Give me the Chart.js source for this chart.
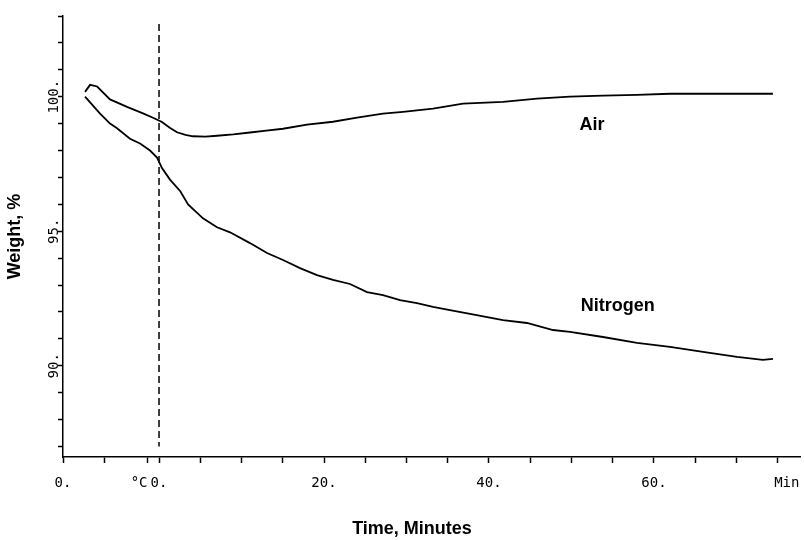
<!DOCTYPE html>
<html><head><meta charset="utf-8">
<script src="https://cdn.jsdelivr.net/npm/chart.js@4.4.1/dist/chart.umd.min.js"></script>
<style>html,body{margin:0;padding:0;background:#fff;}#wrap{width:804px;height:540px;position:relative;}</style>
</head><body><div id="wrap"><canvas id="c"></canvas></div>
<script>
// ---- data ----
const airTime = [-8.97, -8.36, -7.5, -5.94, -3.88, -1.94, -0.73, 0.36, 1.3, 2.18, 3.2, 4.12, 5.6, 7.03, 9.0, 11.03, 13.0, 15.03, 17.94, 21.09, 24.0, 27.15, 29.58, 33.21, 36.85, 41.7, 45.82, 49.82, 53.82, 57.94, 61.94, 65.94, 70.06, 74.42];
const airWeight = [100.18, 100.44, 100.38, 99.9, 99.62, 99.38, 99.22, 99.06, 98.85, 98.68, 98.58, 98.53, 98.52, 98.55, 98.6, 98.67, 98.74, 98.81, 98.96, 99.07, 99.22, 99.37, 99.44, 99.56, 99.74, 99.81, 99.93, 100.0, 100.04, 100.07, 100.11, 100.11, 100.11, 100.11];
const nitrogenTime = [-8.97, -7.15, -5.94, -5.09, -3.52, -2.3, -1.09, -0.24, 0.36, 1.33, 2.6, 3.52, 5.33, 7.03, 8.61, 11.03, 13.09, 15.03, 17.09, 19.15, 21.09, 23.15, 25.21, 27.15, 29.21, 31.27, 33.21, 35.27, 37.7, 41.7, 44.6, 47.76, 49.82, 53.82, 57.94, 61.94, 65.94, 70.06, 73.2, 74.42];
const nitrogenWeight = [100.0, 99.37, 99.0, 98.83, 98.44, 98.26, 98.0, 97.74, 97.35, 96.92, 96.48, 96.0, 95.48, 95.15, 94.96, 94.56, 94.19, 93.93, 93.63, 93.37, 93.19, 93.04, 92.74, 92.63, 92.44, 92.33, 92.19, 92.07, 91.93, 91.7, 91.59, 91.33, 91.26, 91.07, 90.85, 90.7, 90.52, 90.33, 90.22, 90.26];
const markerTime = [0, 0];
const markerWeight = [102.7, 87];

const seriesNames = ['Air', 'Nitrogen'];
const seriesLabelTime = [52.5, 55.6];
const seriesLabelWeight = [98.96, 92.22];

const yTickValues = [87, 88, 89, 90, 91, 92, 93, 94, 95, 96, 97, 98, 99, 100, 101, 102, 103];
const yLabelValues = [90, 95, 100];
const xLabelValues = [-11.64, -2.42, 0, 20, 40, 60, 76.1];
const xLabelTexts = ['0.', '°C', '0.', '20.', '40.', '60.', 'Min'];
const xUnmarked = [-2.42, 76.1];
const xMinorTicks = [-6.55, -1.45, 5, 10, 15, 25, 30, 35, 45, 50, 55, 65, 70, 75];

// ---- chart ----
const toPts = (xs, ys) => xs.map((v, i) => ({x: v, y: ys[i]}));
const monoFont = {family: '"DejaVu Sans Mono", monospace', size: 14};
const boldFont = {family: '"Liberation Sans", Arial, sans-serif', size: 18, weight: 'bold'};

const seriesLabelPlugin = {
  id: 'seriesLabels',
  afterDatasetsDraw(chart) {
    const {ctx, scales: {x, y}} = chart;
    ctx.save();
    ctx.font = 'bold 18px "Liberation Sans", Arial, sans-serif';
    ctx.fillStyle = '#000';
    ctx.textAlign = 'center';
    ctx.textBaseline = 'middle';
    seriesNames.forEach((n, i) => {
      ctx.fillText(n, x.getPixelForValue(seriesLabelTime[i]), y.getPixelForValue(seriesLabelWeight[i]));
    });
    ctx.restore();
  }
};

new Chart(document.getElementById('c'), {
  type: 'line',
  data: {
    datasets: [
      {label: 'Air', data: toPts(airTime, airWeight), borderColor: '#000', borderWidth: 1.8, pointRadius: 0, tension: 0, fill: false},
      {label: 'Nitrogen', data: toPts(nitrogenTime, nitrogenWeight), borderColor: '#000', borderWidth: 1.8, pointRadius: 0, tension: 0, fill: false},
      {label: 'marker', data: toPts(markerTime, markerWeight), borderColor: '#000', borderWidth: 1.5, borderDash: [7, 4], pointRadius: 0, fill: false}
    ]
  },
  options: {
    responsive: true,
    maintainAspectRatio: false,
    animation: false,
    layout: {padding: {left: 24, right: 4, top: 16, bottom: 0}},
    plugins: {
      legend: {display: false},
      tooltip: {enabled: false},
      title: {display: true, position: 'bottom', text: 'Time, Minutes', color: '#000', font: boldFont, padding: {top: 3, bottom: 0}}
    },
    scales: {
      x: {
        type: 'linear', min: -11.64, max: 77.7,
        afterBuildTicks: s => { s.ticks = [...xLabelValues, ...xMinorTicks].sort((a, b) => a - b).map(v => ({value: v})); },
        afterFit: s => { s.height = 58.4; s.paddingLeft = 0; s.paddingRight = 0; },
        ticks: {autoSkip: false, minRotation: 0, maxRotation: 0, padding: 12, color: '#000', font: monoFont,
          callback: v => { const i = xLabelValues.indexOf(v); return i >= 0 ? xLabelTexts[i] : ''; }},
        grid: {drawOnChartArea: false, drawTicks: true, tickLength: 6, tickWidth: 1.5,
          color: '#000', tickColor: c => (c.tick && xUnmarked.includes(c.tick.value)) ? 'rgba(0,0,0,0)' : '#000'},
        border: {display: true, color: '#000', width: 1.5}
      },
      y: {
        type: 'linear', min: 86.61, max: 103,
        afterBuildTicks: s => { s.ticks = yTickValues.map(v => ({value: v})); },
        afterFit: s => { s.width = 39; s.paddingTop = 0; s.paddingBottom = 0; },
        ticks: {autoSkip: false, minRotation: 90, maxRotation: 90, crossAlign: 'center', padding: -13, color: '#000', font: monoFont,
          callback: v => yLabelValues.includes(v) ? v + '.' : ''},
        grid: {drawOnChartArea: false, drawTicks: true, tickLength: 5, tickWidth: 1.5, color: '#000', tickColor: '#000'},
        border: {display: true, color: '#000', width: 1.5},
        title: {display: true, text: 'Weight, %', color: '#000', font: boldFont, padding: {top: -20, bottom: 0}}
      }
    }
  },
  plugins: [seriesLabelPlugin]
});
</script></body></html>
